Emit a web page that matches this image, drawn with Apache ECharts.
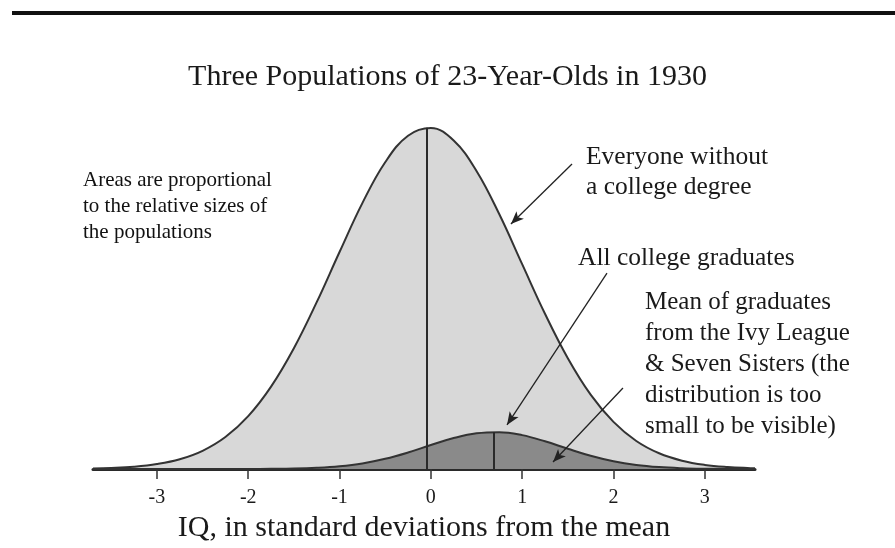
<!DOCTYPE html>
<html>
<head>
<meta charset="utf-8">
<script src="https://cdn.jsdelivr.net/npm/echarts@6/dist/echarts.min.js"></script>
<style>
	html, body { margin: 0; padding: 0; background: #fff; }
	#chart { width: 895px; height: 548px; }
</style>
</head>
<body>
<div id="chart"></div>
<script>
// x positions (standard deviations) where the curve heights were read
const xs = [-3.7, -3.5, -3.25, -3, -2.75, -2.5, -2.25, -2, -1.75, -1.5, -1.25, -1, -0.75, -0.5, -0.25,
	0, 0.25, 0.5, 0.75, 1, 1.25, 1.5, 1.75, 2, 2.25, 2.5, 2.75, 3, 3.25, 3.5, 3.55];

// everyone without a college degree
const everyone = [0.0006, 0.0012, 0.0027, 0.0058, 0.0114, 0.0213, 0.0374, 0.0618, 0.0963, 0.1412, 0.1951,
	0.2538, 0.3110, 0.3588, 0.3898, 0.3988, 0.3842, 0.3486, 0.2979, 0.2396, 0.1816, 0.1296, 0.0870,
	0.0551, 0.0328, 0.0184, 0.0097, 0.0048, 0.0023, 0.0010, 0.0009];

// all college graduates
const graduates = [0, 0, 0, 0, 0, 0, 0, 0.0001, 0.0002, 0.0005, 0.0014, 0.0032, 0.0065, 0.0119, 0.0193,
	0.0280, 0.0362, 0.0418, 0.0431, 0.0396, 0.0324, 0.0237, 0.0155, 0.0090, 0.0047, 0.0022, 0.0009,
	0.0003, 0.0001, 0, 0];

// means and heights of the two curves at their means
const everyoneMean = [-0.05, 0.399];
const graduatesMean = [0.69, 0.0432];

const tickValues = [-3, -2, -1, 0, 1, 2, 3];
const tickLabels = ['-3', '-2', '-1', '0', '1', '2', '3'];

// annotation arrows: [from, to] in data coordinates
const arrows = [
	[[1.546, 0.3567], [0.877, 0.2865]],
	[[1.929, 0.2292], [0.834, 0.0515]],
	[[2.104, 0.0947], [1.338, 0.0082]]
];

const serif = '"Liberation Serif", "DejaVu Serif", serif';
const ink = '#1a1a1a';

let chart = echarts.init(document.getElementById('chart'));

let option = {
	animation: false,
	backgroundColor: '#fff',
	title: {
		text: 'Three Populations of 23-Year-Olds in 1930',
		left: 'center',
		top: 57,
		textStyle: { fontFamily: serif, fontSize: 30, fontWeight: 'normal', color: ink }
	},
	grid: { left: 93, right: 140, top: 127, bottom: 79 },
	xAxis: {
		type: 'value',
		min: -3.7,
		max: 3.55,
		name: 'IQ, in standard deviations from the mean',
		nameLocation: 'middle',
		nameGap: 44,
		nameTextStyle: { fontFamily: serif, fontSize: 30, color: ink },
		axisLine: { show: true, lineStyle: { color: '#2a2a2a', width: 3 } },
		axisTick: { show: true, length: 10, customValues: tickValues, lineStyle: { color: '#333', width: 1.5 } },
		axisLabel: {
			customValues: tickValues,
			margin: 19,
			fontFamily: serif,
			fontSize: 20,
			color: ink,
			formatter: (v) => tickLabels[tickValues.indexOf(v)] ?? ''
		},
		splitLine: { show: false }
	},
	yAxis: {
		type: 'value',
		min: 0,
		max: 0.4,
		show: false
	},
	series: [
		{
			name: 'Everyone without a college degree',
			type: 'line',
			smooth: 0.4,
			smoothConstraint: false,
			symbol: 'none',
			data: xs.map((x, i) => [x, everyone[i]]),
			lineStyle: { color: '#333', width: 2 },
			areaStyle: { color: '#d8d8d8', opacity: 1 },
			z: 2
		},
		{
			name: 'All college graduates',
			type: 'line',
			smooth: 0.4,
			smoothConstraint: false,
			symbol: 'none',
			data: xs.map((x, i) => [x, graduates[i]]),
			lineStyle: { color: '#333', width: 2 },
			areaStyle: { color: '#8a8a8a', opacity: 1 },
			z: 3
		},
		{
			name: 'means',
			type: 'line',
			symbol: 'none',
			data: [],
			z: 4,
			markLine: {
				silent: true,
				symbol: ['none', 'none'],
				label: { show: false },
				lineStyle: { color: '#2a2a2a', width: 2, type: 'solid' },
				data: [
					[{ coord: [everyoneMean[0], 0] }, { coord: everyoneMean }],
					[{ coord: [graduatesMean[0], 0] }, { coord: graduatesMean }]
				]
			}
		},
		{
			name: 'arrows',
			type: 'line',
			symbol: 'none',
			data: [],
			z: 5,
			markLine: {
				silent: true,
				symbol: ['none', 'arrow'],
				symbolSize: [8, 13],
				label: { show: false },
				lineStyle: { color: '#222', width: 1.3, type: 'solid' },
				data: arrows.map(a => [{ coord: a[0] }, { coord: a[1] }])
			}
		}
	],
	graphic: [
		{ type: 'rect', shape: { x: 12, y: 11, width: 883, height: 4 }, style: { fill: '#111' } },
		{
			type: 'text',
			style: {
				x: 83, y: 167,
				text: 'Areas are proportional\nto the relative sizes of\nthe populations',
				font: '21px ' + serif,
				lineHeight: 26,
				fill: '#111'
			}
		},
		{
			type: 'text',
			style: {
				x: 586, y: 142,
				text: 'Everyone without\na college degree',
				font: '25.5px ' + serif,
				lineHeight: 30,
				fill: ink
			}
		},
		{
			type: 'text',
			style: {
				x: 578, y: 243,
				text: 'All college graduates',
				font: '25.5px ' + serif,
				lineHeight: 30,
				fill: ink
			}
		},
		{
			type: 'text',
			style: {
				x: 645, y: 287,
				text: 'Mean of graduates\nfrom the Ivy League\n& Seven Sisters (the\ndistribution is too\nsmall to be visible)',
				font: '25px ' + serif,
				lineHeight: 31,
				fill: ink
			}
		}
	]
};

chart.setOption(option);
</script>
</body>
</html>
